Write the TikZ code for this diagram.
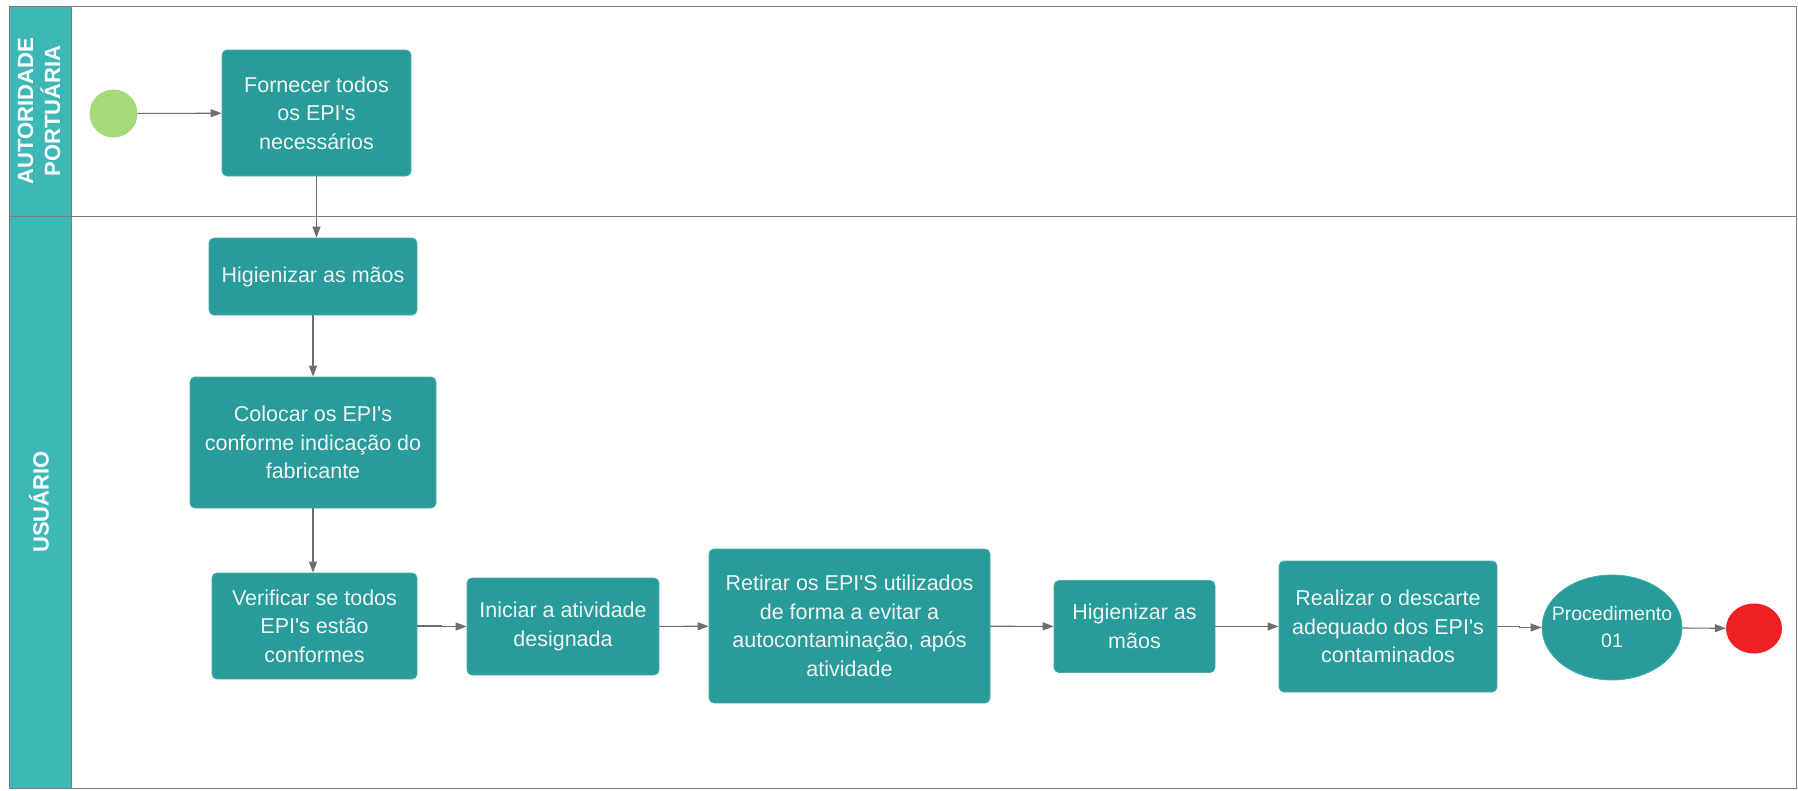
\documentclass[tikz,border=0pt]{standalone}
\usepackage{fontspec}
\setmainfont{Liberation Sans}
\usetikzlibrary{shapes.geometric,arrows.meta}
\definecolor{taskfill}{HTML}{279C9A}
\definecolor{lanefill}{HTML}{3EB8B7}
\definecolor{rulegray}{HTML}{7C7C7C}
\definecolor{flowgray}{HTML}{6E6E6E}
\definecolor{startgreen}{HTML}{A6DA79}
\definecolor{endred}{HTML}{EE2024}
\definecolor{tasktext}{HTML}{F2F2F2}
\newcommand\ap{\textquotesingle}
\begin{document}
\begin{tikzpicture}[x=1pt,y=-1pt,
  task/.style={draw=taskfill!85!white, fill=taskfill, rounded corners=5pt,
    text=tasktext, font=\fontsize{21.5}{28.5}\selectfont, align=center,
    inner sep=0pt, line width=0.8pt},
  flow/.style={draw=flowgray, line width=1.1pt,
    -{Triangle[length=11pt,width=8pt]}},
  lanelabel/.style={text=white, font=\fontsize{22}{27}\selectfont\bfseries,
    align=center, rotate=90},
  event/.style={ellipse, inner sep=0pt, draw=none}
]
\useasboundingbox (0,0) rectangle (1798,790);

% pool with its two lanes
\fill[white] (9,6) rectangle (1796,788);
\fill[lanefill] (9,6) rectangle (71,788);
\draw[rulegray, line width=1pt] (9,6) rectangle (1796,788);
\draw[rulegray, line width=1pt] (71,6) -- (71,788);
\draw[rulegray, line width=1pt] (9,216) -- (1796,216);
\node[lanelabel] (laneA) at (39,111) {AUTORIDADE\\PORTUÁRIA};
\node[lanelabel] (laneB) at (39,502) {USUÁRIO};

% events
\node[event, fill=startgreen, minimum width=48pt, minimum height=48pt] (start) at (113.5,113.5) {};
\node[event, fill=endred, minimum width=56pt, minimum height=50pt] (stop) at (1754,628.5) {};

% tasks
\node[task, minimum width=189pt, minimum height=126pt] (supply) at (316.5,113)
  {Fornecer todos\\os EPI\ap s\\necessários};
\node[task, minimum width=208pt, minimum height=77pt] (wash1) at (313,276.5)
  {Higienizar as mãos};
\node[task, minimum width=246pt, minimum height=131pt] (wear) at (313,442.5)
  {Colocar os EPI\ap s\\conforme indicação do\\fabricante};
\node[task, minimum width=205pt, minimum height=106pt] (check) at (314.5,626)
  {Verificar se todos\\EPI\ap s estão\\conformes};
\node[task, minimum width=192pt, minimum height=97pt] (begin) at (563,626.5)
  {Iniciar a atividade\\designada};
\node[task, minimum width=281pt, minimum height=154pt] (remove) at (849.5,626)
  {Retirar os EPI\ap S utilizados\\de forma a evitar a\\autocontaminação, após\\atividade};
\node[task, minimum width=161pt, minimum height=92pt] (wash2) at (1134.5,626.5)
  {Higienizar as\\mãos};
\node[task, minimum width=218pt, minimum height=131pt] (discard) at (1388,626.5)
  {Realizar o descarte\\adequado dos EPI\ap s\\contaminados};
\node[ellipse, draw=taskfill!85!white, fill=taskfill, line width=0.8pt,
  inner sep=0pt, minimum width=140pt, minimum height=105pt] (proc) at (1612,627.5) {};
\node[text=tasktext, align=center, font=\fontsize{19.5}{27}\selectfont,
  inner sep=0pt] (proctext) at (proc.center) {Procedimento\\01};

% sequence flows
\draw[flow] (start) -- (supply);
\draw[flow] (supply.south) -- (supply.south |- wash1.north);
\draw[flow] (wash1) -- (wear);
\draw[flow] (wear.south) -- (wear.south |- check.north);
\draw[flow] (check.east) -- ++(24,0) |- (begin.west);
\draw[flow] (begin) -- (remove);
\draw[flow] (remove) -- (wash2);
\draw[flow] (wash2) -- (discard);
\draw[flow] (discard.east) -- ++(22,0) |- (proc.west);
\draw[flow] (proc) -- (stop);
\end{tikzpicture}
\end{document}
